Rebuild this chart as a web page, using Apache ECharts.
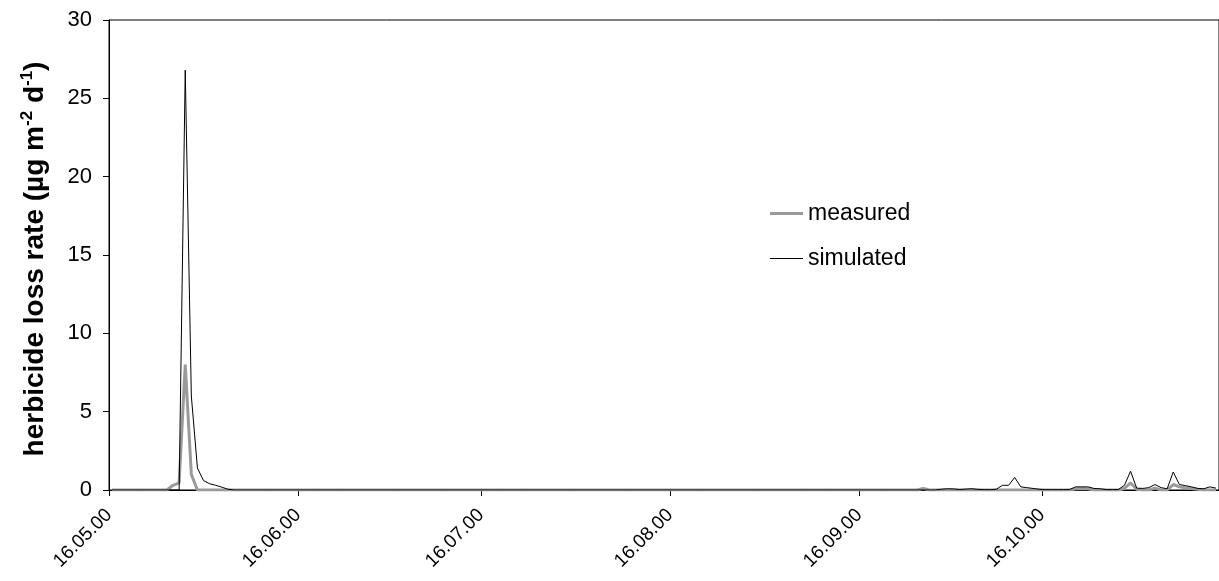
<!DOCTYPE html>
<html>
<head>
<meta charset="utf-8">
<script src="https://cdn.jsdelivr.net/npm/echarts@6/dist/echarts.min.js"></script>
<style>html,body{margin:0;padding:0;background:#fff;}#c{width:1219px;height:581px;}</style>
</head>
<body>
<div id="c"></div>
<script>
// Daily values starting 16.05.2000 (day 0)
const startDate = [2000, 4, 16];
const tickDates = [[2000,4,16],[2000,5,16],[2000,6,16],[2000,7,16],[2000,8,16],[2000,9,16]];
const endDate = [2000, 10, 14];
const seriesNames = ['measured', 'simulated'];

const measured = [
  0,0,0,0,0,0,0,0,0,0,
  0.3,0.45,8.0,1.0,0,0,0,0,0,0,
  0,0,0,0,0,0,0,0,0,0,
  0,0,0,0,0,0,0,0,0,0,
  0,0,0,0,0,0,0,0,0,0,
  0,0,0,0,0,0,0,0,0,0,
  0,0,0,0,0,0,0,0,0,0,
  0,0,0,0,0,0,0,0,0,0,
  0,0,0,0,0,0,0,0,0,0,
  0,0,0,0,0,0,0,0,0,0,
  0,0,0,0,0,0,0,0,0,0,
  0,0,0,0,0,0,0,0,0,0,
  0,0,0,0,0,0,0,0,0,0,
  0,0,0,0.1,0,0,0,0,0,0,
  0,0,0,0,0,0,0,0,0,0,
  0,0,0,0,0,0,0,0,0.08,0.1,
  0.08,0,0,0,0,0,0.1,0.45,0.05,0,
  0,0.12,0,0,0.35,0.2,0.15,0.1,0.05,0,
  0,0
];

const simulated = [
  0,0,0,0,0,0,0,0,0,0,
  0,0,26.8,6.0,1.4,0.6,0.4,0.3,0.18,0.05,
  0,0,0,0,0,0,0,0,0,0,
  0,0,0,0,0,0,0,0,0,0,
  0,0,0,0,0,0,0,0,0,0,
  0,0,0,0,0,0,0,0,0,0,
  0,0,0,0,0,0,0,0,0,0,
  0,0,0,0,0,0,0,0,0,0,
  0,0,0,0,0,0,0,0,0,0,
  0,0,0,0,0,0,0,0,0,0,
  0,0,0,0,0,0,0,0,0,0,
  0,0,0,0,0,0,0,0,0,0,
  0,0,0,0,0,0,0,0,0,0,
  0,0,0,0,0,0,0.05,0.08,0.07,0.03,
  0.06,0.08,0.04,0.02,0.02,0.05,0.3,0.3,0.8,0.2,
  0.15,0.1,0.05,0.02,0.02,0.02,0.02,0.03,0.2,0.2,
  0.2,0.1,0.08,0.03,0.02,0.03,0.3,1.2,0.12,0.1,
  0.15,0.35,0.15,0.08,1.15,0.35,0.28,0.2,0.1,0.08,
  0.2,0.12
];

const DAY = 86400000;
const t0 = Date.UTC(startDate[0], startDate[1], startDate[2]);
const dayOf = d => Math.round((Date.UTC(d[0], d[1], d[2]) - t0) / DAY);
const xMax = dayOf(endDate);
const ticks = tickDates.map(dayOf);
// x in days since start; points sit in the middle of each day (date axis, between tick marks)
const toData = arr => arr.map((v, i) => [i + 0.5, v]);
const pad = n => (n < 10 ? '0' : '') + n;
const fmt = v => { const d = new Date(t0 + Math.round(v) * DAY); return pad(d.getUTCDate()) + '.' + pad(d.getUTCMonth() + 1) + '.' + pad(d.getUTCFullYear() % 100); };

const GRAY = '#9a9a9a';
const FONT = '"Liberation Sans", Arial, sans-serif';
const chart = echarts.init(document.getElementById('c'), null, {renderer: 'canvas'});
chart.setOption({
  animation: false,
  backgroundColor: '#fff',
  textStyle: {fontFamily: FONT, color: '#000'},
  grid: {left: 109, top: 20, bottom: 91, right: -2, show: true, borderColor: '#000', borderWidth: 1, backgroundColor: 'transparent'},
  legend: {
    data: [
      {name: seriesNames[0], icon: 'path://M0,0H33V3H0Z', itemStyle: {color: GRAY}},
      {name: seriesNames[1], icon: 'path://M0,0H33V1H0Z', itemStyle: {color: '#000'}}
    ],
    orient: 'vertical',
    left: 765, top: 197,
    itemWidth: 33, itemHeight: 14, itemGap: 22,
    symbolKeepAspect: true,
    textStyle: {fontFamily: FONT, fontSize: 23, color: '#000', lineHeight: 22}
  },
  xAxis: {
    type: 'value',
    min: 0, max: xMax,
    axisLine: {lineStyle: {color: '#000', width: 1}},
    axisTick: {show: true, length: 6, customValues: ticks, lineStyle: {color: '#000'}},
    axisLabel: {customValues: ticks, formatter: v => fmt(v), rotate: 45, fontSize: 19, fontFamily: FONT, color: '#000', margin: 22},
    splitLine: {show: false}
  },
  yAxis: {
    type: 'value',
    min: 0, max: 30, interval: 5,
    axisLine: {show: true, lineStyle: {color: '#000', width: 1}},
    axisTick: {show: true, length: 6, lineStyle: {color: '#000'}},
    axisLabel: {fontSize: 22, fontFamily: FONT, color: '#000', margin: 17},
    splitLine: {show: false},
    name: '{a|herbicide loss rate (µg m}{s|-2}{a| d}{s|-1}{a|)}',
    nameLocation: 'middle',
    nameRotate: 90,
    nameGap: 58,
    nameTextStyle: {
      padding: [0, 8, 0, 0],
      rich: {
        a: {fontFamily: FONT, fontSize: 28, fontWeight: 'bold', color: '#000', lineHeight: 32},
        s: {fontFamily: FONT, fontSize: 17, fontWeight: 'bold', color: '#000', lineHeight: 18, verticalAlign: 'top'}
      }
    }
  },
  series: [
    {name: seriesNames[0], type: 'line', data: toData(measured), symbol: 'none', lineStyle: {color: GRAY, width: 3}, itemStyle: {color: GRAY}, z: 2},
    {name: seriesNames[1], type: 'line', data: toData(simulated), symbol: 'none', lineStyle: {color: '#000', width: 1}, itemStyle: {color: '#000'}, z: 3}
  ]
});
</script>
</body>
</html>
